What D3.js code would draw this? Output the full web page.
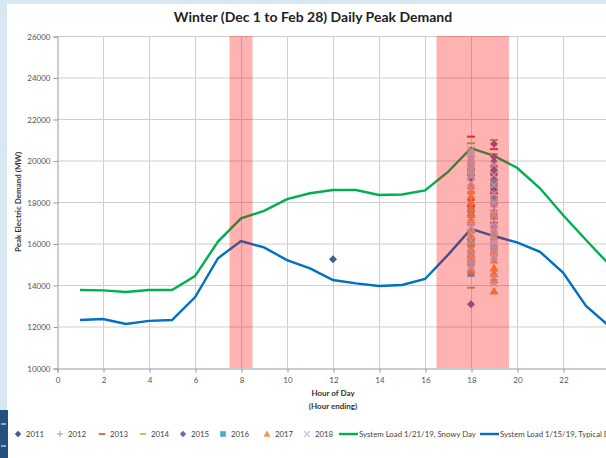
<!DOCTYPE html>
<html>
<head>
<meta charset="utf-8">
<script src="https://cdn.jsdelivr.net/npm/d3@7"></script>
<style>
  body { margin: 0; background: #d8e8f2; }
  svg { display: block; font-family: Lato, "Open Sans", sans-serif; }
</style>
</head>
<body>
<div id="chart"></div>
<script>
// Data
var hours = [1, 2, 3, 4, 5, 6, 7, 8, 9, 10, 11, 12, 13, 14, 15, 16, 17, 18, 19, 20, 21, 22, 23, 24];
var snowyDay = [13760, 13740, 13660, 13760, 13760, 14430, 16090, 17210, 17570, 18140, 18420, 18580,
                18580, 18340, 18360, 18560, 19450, 20600, 20220, 19650, 18660, 17370, 16170, 15000];
var typicalDay = [12310, 12360, 12120, 12270, 12310, 13410, 15290, 16120, 15810, 15200, 14800, 14240,
                  14080, 13950, 14000, 14290, 15450, 16700, 16360, 16050, 15600, 14600, 12990, 12020];

// daily winter peaks: [hour ending, MW]
var peaks2011 = [[12, 15240], [18, 19100], [18, 17350], [18, 16200], [18, 15050],
                 [19, 19350], [19, 18900], [19, 18600], [19, 16800]];
var peaks2012 = [[18, 20200], [18, 18400], [18, 16900], [19, 19450], [19, 19050], [19, 18700],
                 [19, 18500], [19, 18250], [19, 17600]];
var peaks2013 = [[18, 21150], [18, 19300], [18, 17800], [19, 20550], [19, 18420], [19, 17000]];
var peaks2014 = [[18, 20830], [18, 19600], [18, 15500], [18, 13870],
                 [19, 20990], [19, 20310], [19, 19750], [19, 16200]];
var peaks2015 = [[18, 20000], [18, 18100], [18, 15300], [18, 14960], [18, 13070],
                 [19, 20800], [19, 20180], [19, 19950], [19, 19700], [19, 19540], [19, 19300],
                 [19, 19100], [19, 18800], [19, 17900]];
var peaks2016 = [[18, 19450], [18, 17600], [18, 16000], [18, 14560], [19, 18950], [19, 18150], [19, 17300], [19, 15800]];
var peaks2017 = [[18, 19940], [18, 19700], [18, 18800], [18, 18550], [18, 18300], [18, 18000], [18, 17700],
                 [18, 17400], [18, 17130], [18, 16650], [18, 16350], [18, 16050], [18, 15750], [18, 15500],
                 [18, 15300], [18, 14750], [19, 17400], [19, 16550], [19, 15620], [19, 15200], [19, 14820],
                 [19, 14560], [19, 14240], [19, 13710]];
var peaks2018 = [[18, 20500], [18, 20300], [18, 20150], [18, 20050], [18, 19850], [18, 19650], [18, 19500],
                 [18, 19350], [18, 19200], [18, 18950], [18, 18650], [18, 17000], [18, 16800], [18, 16500],
                 [18, 16150], [18, 15650], [18, 15400], [18, 15150], [18, 15000], [18, 14850],
                 [19, 19800], [19, 19300], [19, 18800], [19, 18400], [19, 18000], [19, 17900], [19, 17700],
                 [19, 17400], [19, 17100], [19, 16900], [19, 16750], [19, 16600], [19, 16400], [19, 16250],
                 [19, 16100], [19, 15900], [19, 15750], [19, 15550], [19, 15400], [19, 15250], [19, 14400], [19, 14080]];

var years = ["2011", "2012", "2013", "2014", "2015", "2016", "2017", "2018"];
var yearPeaks = [peaks2011, peaks2012, peaks2013, peaks2014, peaks2015, peaks2016, peaks2017, peaks2018];
var yearColors = ["#3a5f95", "#7fa2d4", "#e0403c", "#9bbb59", "#8064a2", "#4bacc6", "#f79646", "#b5c1d6"];
var yearShapes = ["diamond", "plus", "dash", "dash", "diamond", "square", "triangle", "cross"];

// highlighted hour windows
var bands = [[7.5, 8.5], [16.5, 19.65]];

var yTicks = [10000, 12000, 14000, 16000, 18000, 20000, 22000, 24000, 26000];
var xTicks = [0, 2, 4, 6, 8, 10, 12, 14, 16, 18, 20, 22];
var xGrid = [2, 4, 6, 8, 10, 12, 14, 16, 18, 20, 22, 24];

var W = 606, H = 458;

var svg = d3.select('#chart').append('svg')
    .attr('width', W)
    .attr('height', H)

// white chart panel with slide frame
svg.append('rect').attr('x', 7).attr('y', 4).attr('width', W - 7).attr('height', H - 4).attr('fill', '#fff')
svg.append('rect').attr('x', 0).attr('y', 410).attr('width', 8).attr('height', 48).attr('fill', '#24527e')
svg.append('path').attr('d', 'M1,424 L6,424 M1,446 L6,446').attr('stroke', '#fff').attr('stroke-width', 1)

var x = d3.scaleLinear().domain([0, 24]).range([57, 609]);
var y = d3.scaleLinear().domain([10000, 26000]).range([368, 36]);

// title
svg.append('text')
    .attr('x', 313).attr('y', 22)
    .attr('text-anchor', 'middle')
    .attr('font-size', 14).attr('font-weight', 'bold').attr('fill', '#222')
    .text('Winter (Dec 1 to Feb 28) Daily Peak Demand')

// grid
svg.append('g').selectAll('line')
    .data(yTicks.slice(1))
    .enter().append('line')
        .attr('x1', x(0)).attr('x2', W)
        .attr('y1', function (d) { return y(d) + 0.5 })
        .attr('y2', function (d) { return y(d) + 0.5 })
        .attr('stroke', '#cfcfcf')
svg.append('g').selectAll('line')
    .data(xGrid)
    .enter().append('line')
        .attr('x1', function (d) { return x(d) + 0.5 })
        .attr('x2', function (d) { return x(d) + 0.5 })
        .attr('y1', y(26000)).attr('y2', y(10000))
        .attr('stroke', '#cfcfcf')

// axes
svg.append('g')
    .attr('transform', 'translate(' + (x(0) + 0.5) + ',0.5)')
    .call(d3.axisLeft(y).tickValues(yTicks).tickSize(4).tickPadding(3).tickFormat(d3.format('d')))
svg.append('g')
    .attr('transform', 'translate(0.5,' + (y(10000) + 0.5) + ')')
    .call(d3.axisBottom(x).tickValues(xTicks).tickSize(4).tickPadding(5).tickFormat(d3.format('d')))
svg.selectAll('.domain').attr('stroke', '#9a9a9a')
svg.selectAll('.tick line').attr('stroke', '#9a9a9a')
svg.selectAll('.tick text').attr('fill', '#555').attr('font-size', 8).attr('font-family', 'Lato, sans-serif')

// axis titles
svg.append('text')
    .attr('transform', 'translate(21,202) rotate(-90)')
    .attr('text-anchor', 'middle')
    .attr('font-size', 8).attr('font-weight', 'bold').attr('fill', '#333')
    .text('Peak Electric Demand (MW)')
svg.append('text')
    .attr('x', 333).attr('y', 396)
    .attr('text-anchor', 'middle')
    .attr('font-size', 8).attr('font-weight', 'bold').attr('fill', '#333')
    .text('Hour of Day')
svg.append('text')
    .attr('x', 333).attr('y', 409)
    .attr('text-anchor', 'middle')
    .attr('font-size', 8).attr('font-weight', 'bold').attr('fill', '#333')
    .text('(Hour ending)')

// plot area clip
svg.append('clipPath').attr('id', 'plot')
    .append('rect').attr('x', x(0)).attr('y', 0).attr('width', W - x(0)).attr('height', y(10000))
var plot = svg.append('g').attr('clip-path', 'url(#plot)')

// load lines
var line = d3.line()
    .x(function (d, i) { return x(hours[i]) })
    .y(function (d) { return y(d) })
plot.append('path').datum(snowyDay)
    .attr('d', line).attr('fill', 'none').attr('stroke', '#00b050').attr('stroke-width', 2.4)
plot.append('path').datum(typicalDay)
    .attr('d', line).attr('fill', 'none').attr('stroke', '#0070c0').attr('stroke-width', 2.4)

// marker drawing
function marker(g, shape, color) {
    if (shape === 'diamond') {
        g.append('path').attr('d', 'M0,-4 L4,0 L0,4 L-4,0 Z').attr('fill', color)
    } else if (shape === 'square') {
        g.append('rect').attr('x', -3.5).attr('y', -3.5).attr('width', 7).attr('height', 7).attr('fill', color)
    } else if (shape === 'triangle') {
        g.append('path').attr('d', 'M0,-4.5 L4.5,3.5 L-4.5,3.5 Z').attr('fill', color)
    } else if (shape === 'dash') {
        g.append('rect').attr('x', -4).attr('y', -1).attr('width', 8).attr('height', 2).attr('fill', color)
    } else if (shape === 'plus') {
        g.append('path').attr('d', 'M-4,0 L4,0 M0,-4 L0,4').attr('stroke', color).attr('stroke-width', 1.2)
    } else if (shape === 'cross') {
        g.append('path').attr('d', 'M-3.5,-3.5 L3.5,3.5 M-3.5,3.5 L3.5,-3.5').attr('stroke', color).attr('stroke-width', 1.5)
    }
}

yearPeaks.forEach(function (pts, i) {
    var g = plot.append('g')
    pts.forEach(function (p) {
        var m = g.append('g').attr('transform', 'translate(' + x(p[0]) + ',' + y(p[1]) + ')')
        marker(m, yearShapes[i], yearColors[i])
    })
})

// highlighted windows on top
plot.selectAll('.band')
    .data(bands)
    .enter().append('rect')
        .attr('class', 'band')
        .attr('x', function (d) { return x(d[0]) })
        .attr('width', function (d) { return x(d[1]) - x(d[0]) })
        .attr('y', y(26000))
        .attr('height', y(10000) - y(26000))
        .attr('fill', 'rgba(255,0,0,0.3)')

// legend
var legendY = 437;
var legendSymX = [18, 60, 102, 143, 183, 223, 267, 307];
years.forEach(function (yr, i) {
    var m = svg.append('g').attr('transform', 'translate(' + legendSymX[i] + ',' + (legendY - 3) + ') scale(0.8)')
    marker(m, yearShapes[i], yearColors[i])
    svg.append('text')
        .attr('x', legendSymX[i] + 8).attr('y', legendY)
        .attr('font-size', 7.8).attr('fill', '#444')
        .text(yr)
})
var lineLegend = [
    { x: 339, color: '#00b050', label: 'System Load 1/21/19, Snowy Day' },
    { x: 480, color: '#0070c0', label: 'System Load 1/15/19, Typical Day' }
];
lineLegend.forEach(function (d) {
    svg.append('line')
        .attr('x1', d.x).attr('x2', d.x + 19)
        .attr('y1', legendY - 3).attr('y2', legendY - 3)
        .attr('stroke', d.color).attr('stroke-width', 2.4)
    svg.append('text')
        .attr('x', d.x + 20).attr('y', legendY)
        .attr('font-size', 7.8).attr('fill', '#444')
        .text(d.label)
})
</script>
</body>
</html>
